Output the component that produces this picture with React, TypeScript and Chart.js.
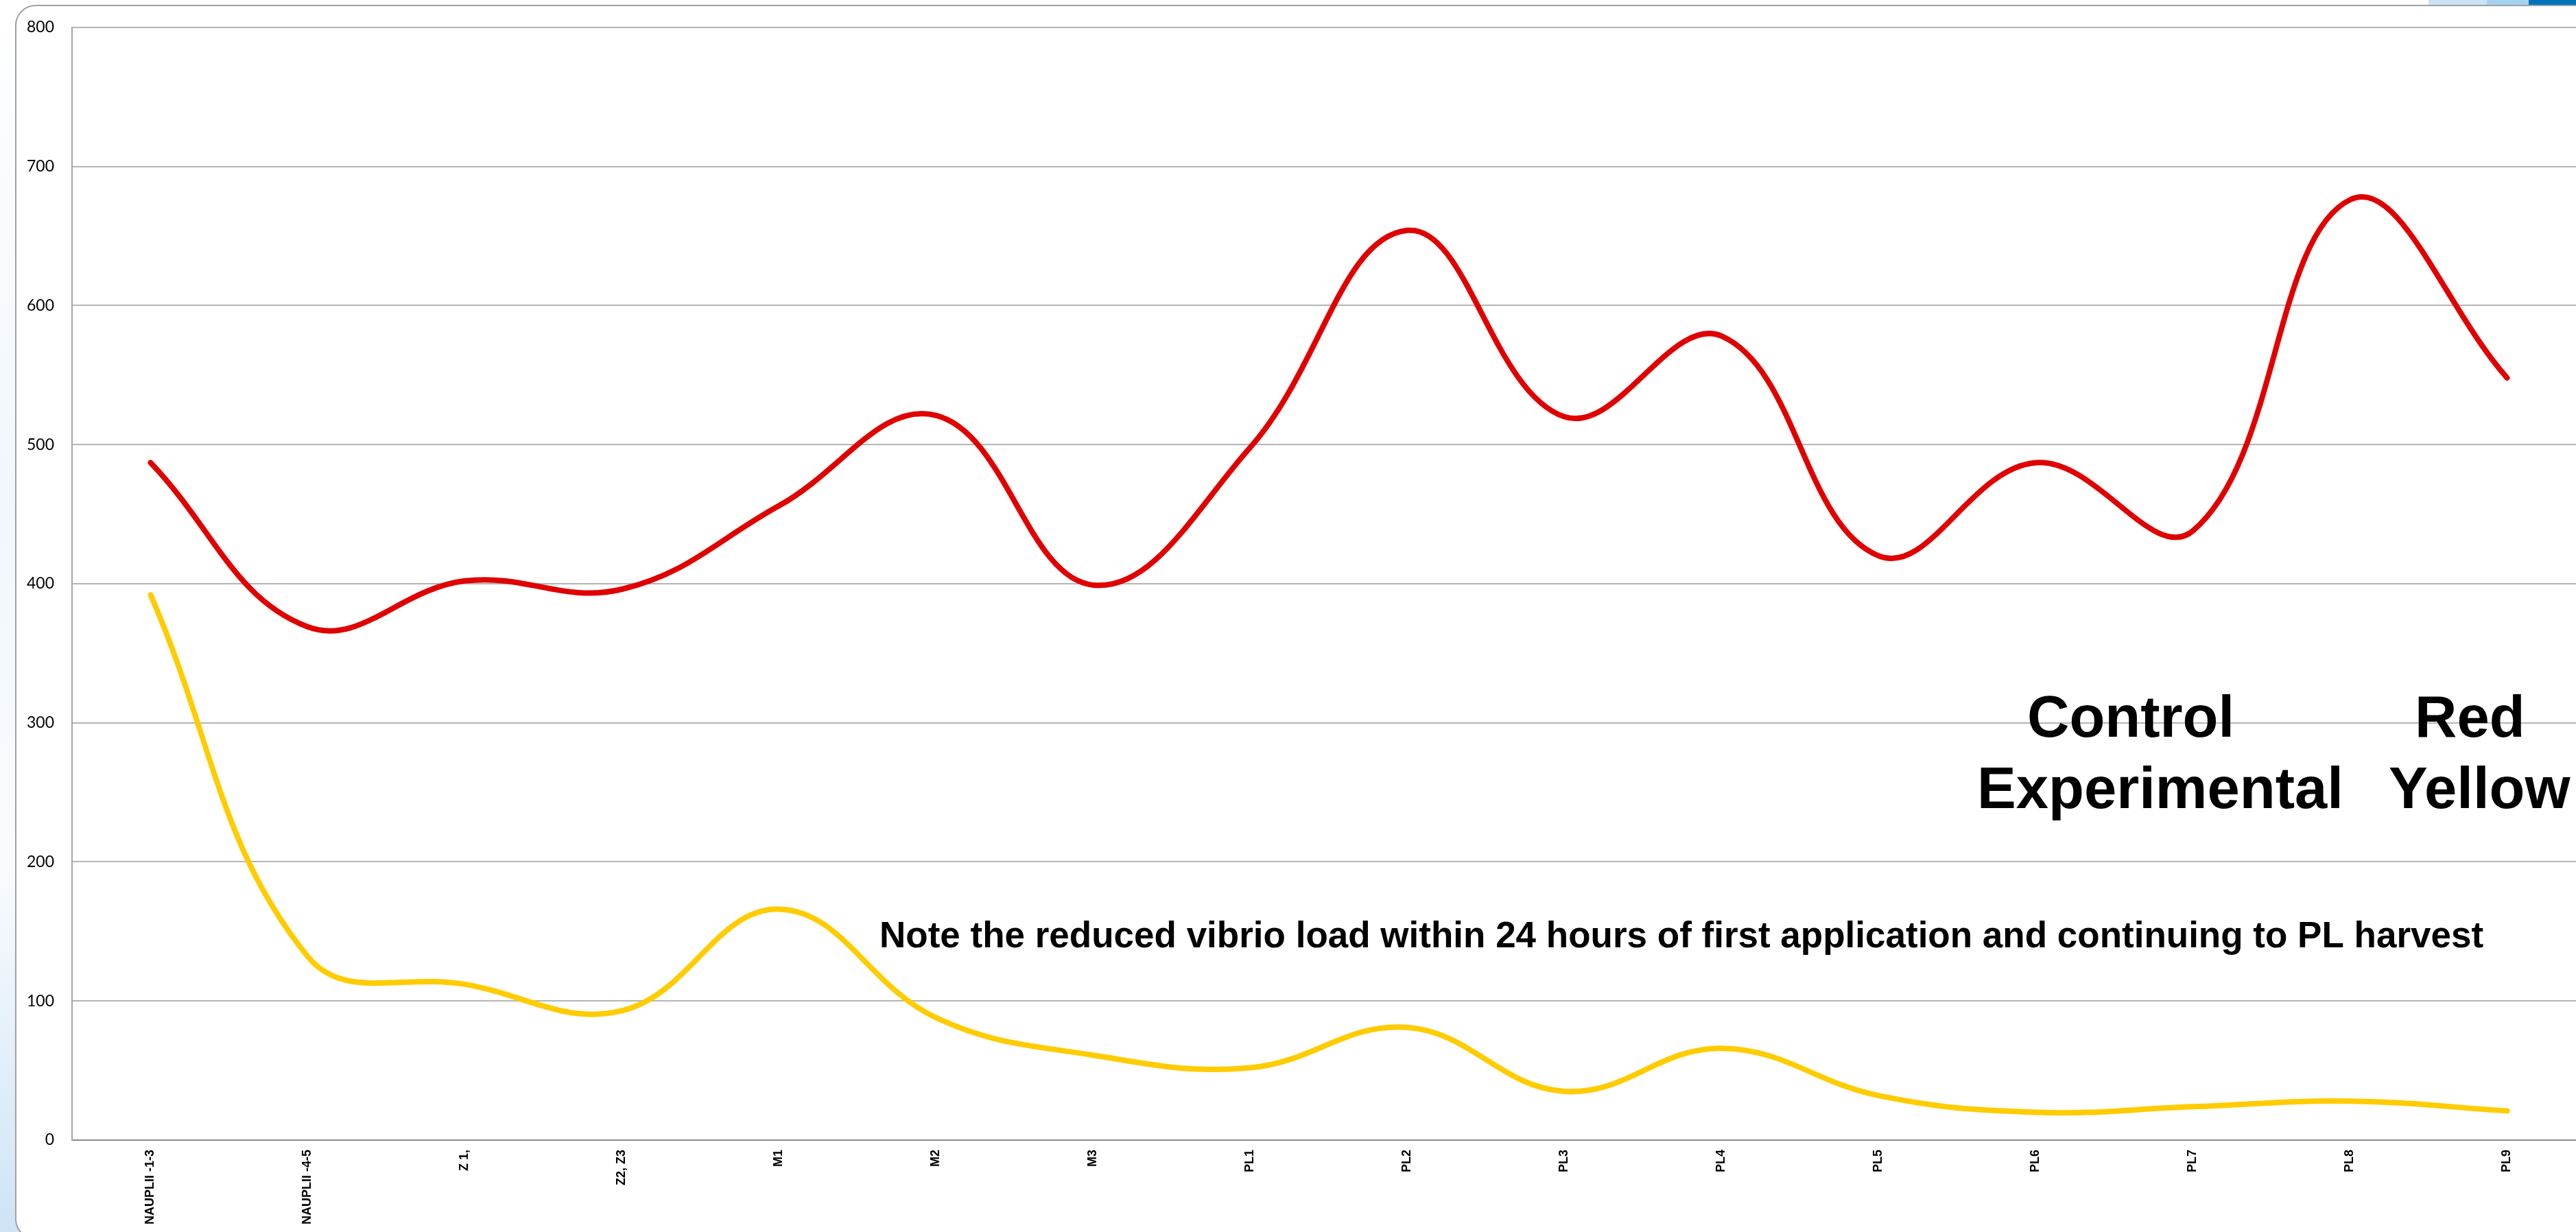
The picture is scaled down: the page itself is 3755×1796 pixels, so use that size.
import React, { useEffect, useRef } from "react";
import { Chart, registerables } from "chart.js";

Chart.register(...registerables);

const stages = [
  "NAUPLII -1-3",
  "NAUPLII -4-5",
  "Z 1,",
  "Z2, Z3",
  "M1",
  "M2",
  "M3",
  "PL1",
  "PL2",
  "PL3",
  "PL4",
  "PL5",
  "PL6",
  "PL7",
  "PL8",
  "PL9",
];

const controlCounts = [487, 369, 402, 396, 456, 521, 399, 498, 654, 520, 578, 420, 487, 438, 676, 548];
const experimentalCounts = [392, 132, 112, 93, 166, 88, 61, 52, 81, 35, 66, 32, 20, 24, 28, 21];

const yMin = 0;
const yMax = 800;
const yStep = 100;

const noteText =
  "Note the reduced vibrio load within 24 hours of first application and continuing to PL harvest";
const keyRowTop = ["Control", "Red"];
const keyRowBottom = ["Experimental", "Yellow"];

export default function App() {
  const ref = useRef<HTMLCanvasElement | null>(null);

  useEffect(() => {
    document.body.style.margin = "0";
    document.body.style.overflow = "hidden";
    const canvas = ref.current;
    if (!canvas) return;

    const annotations = {
      id: "annotations",
      afterDraw(chart: any) {
        const ctx = chart.ctx as CanvasRenderingContext2D;
        ctx.save();
        ctx.fillStyle = "#000000";
        ctx.textAlign = "left";
        ctx.textBaseline = "alphabetic";
        ctx.font = "bold 53px 'Liberation Sans', Arial, sans-serif";
        ctx.fillText(noteText, 1282, 1381);
        ctx.font = "bold 85px 'Liberation Sans', Arial, sans-serif";
        ctx.fillText(keyRowTop[0], 2955, 1074);
        ctx.fillText(keyRowTop[1], 3520, 1074);
        ctx.fillText(keyRowBottom[0], 2882, 1178);
        ctx.fillText(keyRowBottom[1], 3482, 1178);
        ctx.restore();
      },
    };

    const chart = new Chart(canvas, {
      type: "line",
      data: {
        labels: stages,
        datasets: [
          {
            label: "Control",
            data: controlCounts,
            borderColor: "#E00000",
            backgroundColor: "#E00000",
            borderWidth: 8,
            pointRadius: 0,
            pointHoverRadius: 0,
            tension: 0.4,
            borderCapStyle: "round",
            borderJoinStyle: "round",
            fill: false,
          },
          {
            label: "Experimental",
            data: experimentalCounts,
            borderColor: "#FFCC00",
            backgroundColor: "#FFCC00",
            borderWidth: 8,
            pointRadius: 0,
            pointHoverRadius: 0,
            tension: 0.4,
            borderCapStyle: "round",
            borderJoinStyle: "round",
            fill: false,
          },
        ],
      },
      options: {
        responsive: false,
        animation: false,
        events: [],
        layout: { padding: { left: 0, right: 0, top: 37, bottom: 0 } },
        plugins: {
          legend: { display: false },
          tooltip: { enabled: false },
          title: { display: false },
        },
        scales: {
          x: {
            type: "category",
            offset: true,
            grid: { display: false, drawTicks: false },
            border: { display: true, color: "#8c8c8c", width: 2 },
            ticks: {
              autoSkip: false,
              minRotation: 90,
              maxRotation: 90,
              padding: 14,
              color: "#000000",
              font: { family: "'Liberation Sans', Arial, sans-serif", size: 18, weight: "bold" },
            },
            afterFit(scale: any) {
              scale.height = 134;
            },
          },
          y: {
            min: yMin,
            max: yMax,
            grid: { color: "#b4b4b4", lineWidth: 2, drawTicks: false },
            border: { display: true, color: "#a6a6a6", width: 2 },
            ticks: {
              stepSize: yStep,
              padding: 26,
              color: "#000000",
              font: { family: "Lato, 'Open Sans', sans-serif", size: 23 },
            },
            afterFit(scale: any) {
              scale.width = 105;
            },
          },
        },
      },
      plugins: [annotations],
    } as any);

    return () => chart.destroy();
  }, []);

  return (
    <div
      style={{
        position: "fixed",
        left: 0,
        top: 0,
        width: 3755,
        height: 1796,
        overflow: "hidden",
        background: "#ffffff",
      }}
    >
      <div
        style={{
          position: "absolute",
          left: 0,
          top: 0,
          width: 60,
          height: 1796,
          background:
            "linear-gradient(180deg, rgba(220,235,248,0) 0%, rgba(214,232,248,0.35) 40%, rgba(214,232,248,0.15) 70%, #cfe4f6 100%)",
        }}
      />
      <div style={{ position: "absolute", left: 0, top: 1760, width: 120, height: 36, background: "#cfe4f6" }} />
      <div style={{ position: "absolute", left: 3540, top: 0, width: 85, height: 8, background: "#cae3f6" }} />
      <div style={{ position: "absolute", left: 3625, top: 0, width: 61, height: 8, background: "#a5d2ef" }} />
      <div style={{ position: "absolute", left: 3686, top: 0, width: 69, height: 8, background: "#0073bd" }} />
      <div
        style={{
          position: "absolute",
          left: 22,
          top: 7,
          width: 3800,
          height: 1800,
          border: "2px solid #a0a0a0",
          borderRadius: 30,
          background: "#ffffff",
          boxSizing: "border-box",
        }}
      />
      <canvas
        ref={ref}
        width={3769}
        height={1796}
        style={{ position: "absolute", left: 0, top: 0, width: 3769, height: 1796 }}
      />
    </div>
  );
}
